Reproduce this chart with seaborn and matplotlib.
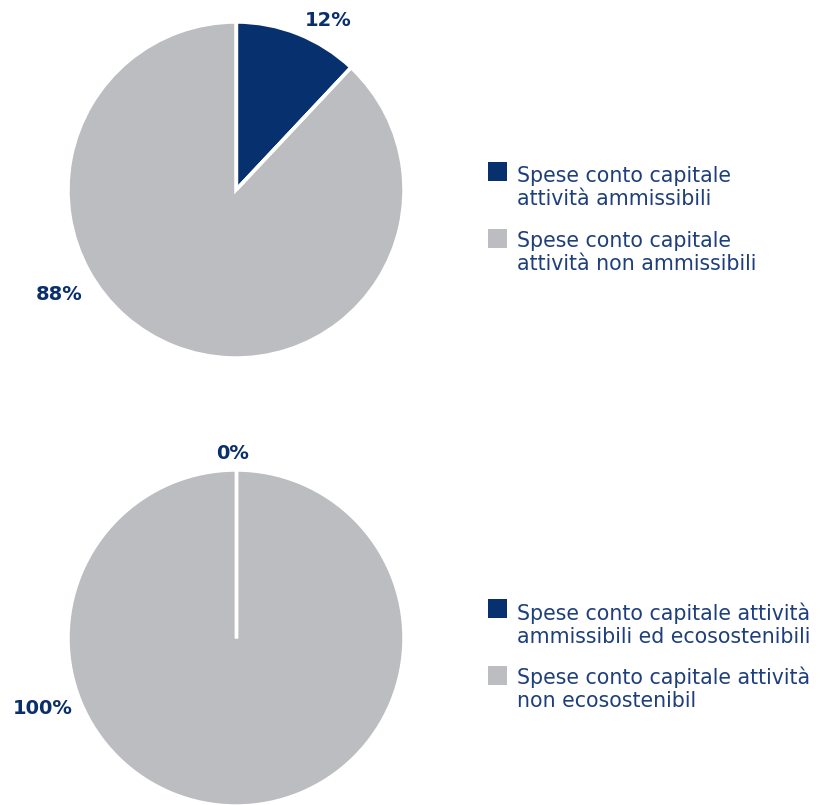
import matplotlib
matplotlib.use("Agg")
import numpy as np
import matplotlib.pyplot as plt
from matplotlib.patches import Rectangle
import seaborn as sns

sns.set_theme(style="white")
plt.rcParams["font.family"] = ["DejaVu Sans"]

# Data
top_categories = ["Spese conto capitale\nattività ammissibili",
                  "Spese conto capitale\nattività non ammissibili"]
top_values = [12, 88]

bottom_categories = ["Spese conto capitale attività\nammissibili ed ecosostenibili",
                     "Spese conto capitale attività\nnon ecosostenibil"]
bottom_values = [0, 100]

colors = ["#07306e", "#bcbdc1"]
label_color = "#0b2f6d"
legend_text_color = "#1e3f7b"

W, H = 830, 805
fig = plt.figure(figsize=(W / 100, H / 100), dpi=100)
fig.patch.set_facecolor("white")

R = 168  # pie radius in pixels
START = 90


def pie_axes(cx, cy):
    return fig.add_axes([(cx - R) / W, 1 - (cy + R) / H, 2 * R / W, 2 * R / H])


def draw_pie(ax, values, label_pos):
    ax.pie(values, colors=colors, startangle=START, counterclock=False,
           wedgeprops=dict(edgecolor="white", linewidth=2.5), radius=1)
    # separators on every slice boundary (keeps empty slices visible)
    fracs = np.concatenate([[0], np.cumsum(values) / np.sum(values)])
    for f in fracs[:-1]:
        ang = np.deg2rad(START - 360 * f)
        ax.plot([0, np.cos(ang)], [0, np.sin(ang)], color="white", lw=2.5,
                solid_capstyle="butt", zorder=5)
    ax.set_xlim(-1, 1)
    ax.set_ylim(-1, 1)
    ax.set_axis_off()
    for v, (x, y) in zip(values, label_pos):
        ax.text(x, y, f"{v}%", ha="center", va="center", color=label_color,
                fontsize=14, fontweight="bold", clip_on=False)


def draw_legend(categories, x, square_tops, baselines):
    for cat, col, top, base in zip(categories, colors, square_tops, baselines):
        fig.patches.append(Rectangle((x / W, 1 - (top + 19) / H), 19 / W, 19 / H,
                                     transform=fig.transFigure, facecolor=col,
                                     edgecolor="none"))
        fig.text((x + 29) / W, 1 - base / H, cat, ha="left", va="baseline",
                 fontsize=14.8, color=legend_text_color, linespacing=1.18)


ax1 = pie_axes(236, 190)
draw_pie(ax1, top_values, [(0.55, 1.01), (-1.05, -0.62)])
draw_legend(top_categories, 488, [162, 229], [205, 270])

ax2 = pie_axes(236, 638)
draw_pie(ax2, bottom_values, [(-0.02, 1.10), (-1.15, -0.42)])
draw_legend(bottom_categories, 488, [599, 666], [643, 707])

fig.savefig("out.png", dpi=100, facecolor="white")
